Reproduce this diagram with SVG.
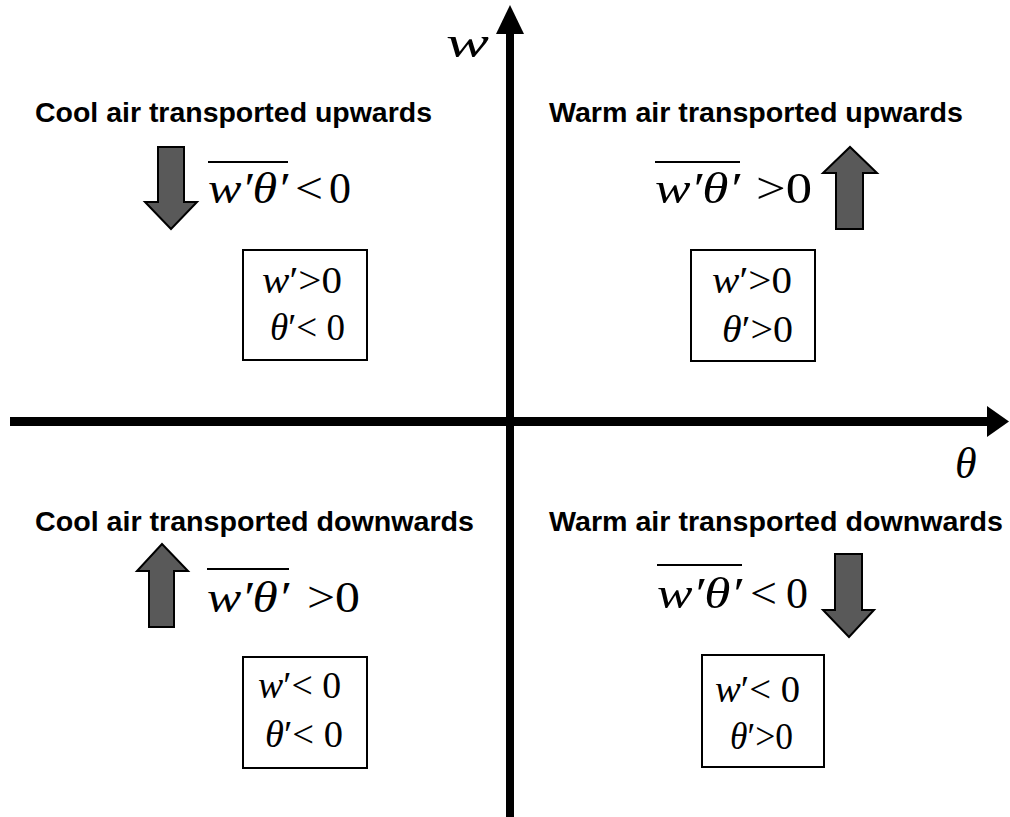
<svg xmlns="http://www.w3.org/2000/svg" width="1010" height="817" viewBox="0 0 1010 817">
<style>
.h{font-family:"Liberation Sans",Arial,sans-serif;font-weight:bold;font-size:28px;fill:#000}
.m{font-family:"Liberation Serif","DejaVu Serif",serif;font-size:44px;fill:#000}
.b{font-family:"Liberation Serif","DejaVu Serif",serif;font-size:38px;fill:#000}
.i{font-style:italic}
.ov{stroke:#000;stroke-width:2}
.box{fill:#fff;stroke:#000;stroke-width:2}
.blk{fill:#595959;stroke:#000;stroke-width:2;stroke-linejoin:miter}
</style>
<rect width="1010" height="817" fill="#fff"/>
<g id="axes">
<rect x="506" y="30" width="8" height="787" fill="#000"/>
<polygon points="496,34 510,5 524,34" fill="#000"/>
<rect x="10" y="417" width="982" height="9" fill="#000"/>
<polygon points="987,406 1009,421.5 987,437" fill="#000"/>
<text x="446" y="57" class="m i" font-size="84" textLength="43" lengthAdjust="spacingAndGlyphs">w</text>
<text x="955" y="478" class="m i" font-size="60">θ</text>
</g>
<g id="q1">
<text class="h" x="35" y="122" textLength="397" lengthAdjust="spacingAndGlyphs">Cool air transported upwards</text>
<path class="blk" d="M158,147 H184 V202 H197 L171,229 L145,202 H158 Z"/>
<line class="ov" x1="208" y1="162" x2="288" y2="162"/>
<text class="m i" x="208" y="203" textLength="80" lengthAdjust="spacingAndGlyphs">w′θ′</text>
<text class="m" x="295" y="203" textLength="28" lengthAdjust="spacingAndGlyphs">&lt;</text>
<text class="m" x="329" y="203">0</text>
<rect class="box" x="243" y="250" width="124" height="110"/>
<text class="b" x="262" y="293" textLength="80" lengthAdjust="spacingAndGlyphs"><tspan class="i">w</tspan>′&gt;0</text>
<text class="b" x="270" y="340" textLength="75" lengthAdjust="spacingAndGlyphs"><tspan class="i">θ</tspan>′&lt; 0</text>
</g>
<g id="q2">
<text class="h" x="549" y="122" textLength="414" lengthAdjust="spacingAndGlyphs">Warm air transported upwards</text>
<path class="blk" d="M836,229 V173 H823 L850,147 L877,173 H863 V229 Z"/>
<line class="ov" x1="655" y1="162" x2="740" y2="162"/>
<text class="m i" x="655" y="203" textLength="85" lengthAdjust="spacingAndGlyphs">w′θ′</text>
<text class="m" x="756" y="203" textLength="56" lengthAdjust="spacingAndGlyphs">&gt;0</text>
<rect class="box" x="691" y="250" width="124" height="111"/>
<text class="b" x="712" y="293" textLength="80" lengthAdjust="spacingAndGlyphs"><tspan class="i">w</tspan>′&gt;0</text>
<text class="b" x="722" y="342" textLength="71" lengthAdjust="spacingAndGlyphs"><tspan class="i">θ</tspan>′&gt;0</text>
</g>
<g id="q3">
<text class="h" x="35" y="531" textLength="439" lengthAdjust="spacingAndGlyphs">Cool air transported downwards</text>
<path class="blk" d="M149,627 V571 H137 L162,544 L188,571 H174 V627 Z"/>
<line class="ov" x1="207" y1="569" x2="289" y2="569"/>
<text class="m i" x="207" y="612" textLength="82" lengthAdjust="spacingAndGlyphs">w′θ′</text>
<text class="m" x="307" y="612" textLength="53" lengthAdjust="spacingAndGlyphs">&gt;0</text>
<rect class="box" x="243" y="657" width="124" height="111"/>
<text class="b" x="258" y="698" textLength="83" lengthAdjust="spacingAndGlyphs"><tspan class="i">w</tspan>′&lt; 0</text>
<text class="b" x="265" y="747" textLength="78" lengthAdjust="spacingAndGlyphs"><tspan class="i">θ</tspan>′&lt; 0</text>
</g>
<g id="q4">
<text class="h" x="549" y="531" textLength="454" lengthAdjust="spacingAndGlyphs">Warm air transported downwards</text>
<path class="blk" d="M835,554 H862 V610 H874 L849,637 L823,610 H835 Z"/>
<line class="ov" x1="657" y1="565" x2="742" y2="565"/>
<text class="m i" x="657" y="608" textLength="85" lengthAdjust="spacingAndGlyphs">w′θ′</text>
<text class="m" x="750" y="608" textLength="27" lengthAdjust="spacingAndGlyphs">&lt;</text>
<text class="m" x="786" y="608">0</text>
<rect class="box" x="702" y="655" width="122" height="112"/>
<text class="b" x="715" y="702" textLength="85" lengthAdjust="spacingAndGlyphs"><tspan class="i">w</tspan>′&lt; 0</text>
<text class="b" x="730" y="749" textLength="63" lengthAdjust="spacingAndGlyphs"><tspan class="i">θ</tspan>′&gt;0</text>
</g>
</svg>
